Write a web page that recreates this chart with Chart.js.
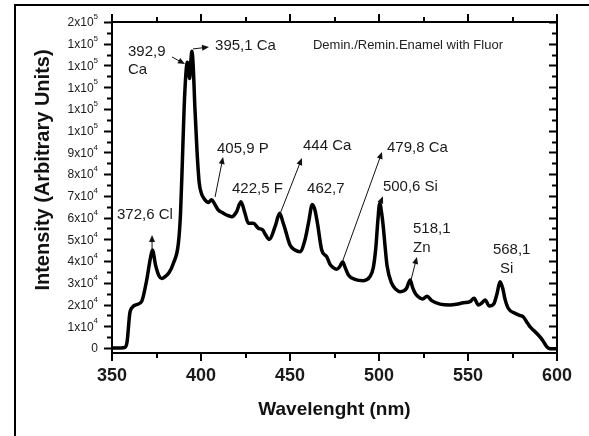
<!DOCTYPE html>
<html>
<head>
<meta charset="utf-8">
<script src="https://cdn.jsdelivr.net/npm/chart.js@4/dist/chart.umd.min.js"></script>
<style>
  html, body { margin: 0; padding: 0; background: #fff; }
  canvas { display: block; }
</style>
</head>
<body>
<canvas id="c" width="589" height="436"></canvas>
<script>
// Emission spectrum: wavelength (nm) and intensity (arbitrary units)
const wavelength = [
  350, 355, 357.3, 358.5, 360, 361.5, 364, 366.7, 369.5, 371.5, 372.7, 374.5, 376.5, 378, 380, 382,
  384.5, 387.3, 388.5, 389.5, 390.5, 391.5, 392.3, 392.9, 393.6, 394.3, 394.9, 395.6, 396.6, 397.8,
  399, 400.3, 401.5, 403, 404.3, 405.9, 407.5, 409.7, 412, 414.4, 417.2, 420, 422.4, 424.7, 426.6,
  429.4, 432.2, 434.7, 436, 438.4, 441.6, 444.2, 446, 447.5, 450, 452.8, 455.6, 458.4, 460.5, 462.5,
  464, 465.5, 467.8, 470.6, 472.5, 474.3, 476.2, 478, 479.6, 481, 482.8, 486.5, 491.2, 494.9, 496.8,
  498.2, 499.3, 500.4, 501.5, 502.4, 503.5, 504.5, 507.1, 509.5, 511.8, 514, 515.5, 517.5, 519,
  520.5, 523, 524.5, 527, 529.6, 534.3, 539.9, 543.5, 547.4, 551.1, 553.4, 555.8, 557.5, 559.6, 562,
  564.5, 566.3, 568, 569.5, 570.8, 572.6, 576.4, 579, 581, 583, 584.8, 587, 589.5, 592, 594.2, 596, 600
];
const intensity = [
  0, 0, 300, 3000, 16000, 18800, 20000, 21500, 31300, 41000, 45100, 38000, 33000, 32000, 33000, 34600,
  39000, 48200, 62000, 85000, 110000, 126000, 131500, 130000, 124000, 132000, 136500, 130000, 110000, 90000,
  76000, 71000, 69000, 67500, 67000, 68200, 66500, 63500, 62300, 61200, 60400, 62700, 67300, 62000, 57400,
  57400, 55100, 54300, 52500, 50000, 55800, 62000, 58000, 54000, 47400, 45100, 44300, 49700, 58000, 66000,
  63500, 57000, 45100, 42000, 38500, 37000, 36200, 37500, 39700, 37000, 33600, 31600, 31000, 32800, 37000,
  46000, 58000, 66600, 62000, 55800, 46000, 38000, 29800, 27000, 25900, 26300, 27500, 31300, 27500,
  25000, 23000, 22600, 23800, 21800, 20200, 19800, 20100, 20800, 21300, 22900, 19800, 20500, 22100, 19300,
  20300, 25000, 30500, 27500, 22500, 18300, 16000, 15000, 14400, 12000, 9800, 8000, 6000, 3500, 600, -300, -300
];

// Axis ticks
const xTickValues = [350, 400, 450, 500, 550, 600];
const xTickLabels = ['350', '400', '450', '500', '550', '600'];
const yTickValues = [0, 10000, 20000, 30000, 40000, 50000, 60000, 70000, 80000, 90000,
                     100000, 110000, 120000, 130000, 140000, 150000];
const yTickLabels = ['0', '1x10^4', '2x10^4', '3x10^4', '4x10^4', '5x10^4', '6x10^4', '7x10^4',
                     '8x10^4', '9x10^4', '1x10^5', '1x10^5', '1x10^5', '1x10^5', '1x10^5', '2x10^5'];

// Peak labels (anchored at wavelength / intensity)
const peakText = ['392,9', 'Ca', '395,1 Ca', '405,9 P', '422,5 F', '444 Ca', '462,7',
                  '479,8 Ca', '500,6 Si', '372,6 Cl', '518,1', 'Zn', '568,1', 'Si'];
const peakTextAt = [
  [359.0, 136200], [359.0, 127900], [407.9, 139000], [409.0, 91600], [417.4, 73200],
  [457.3, 93000], [459.6, 73200], [504.5, 92000], [502.2, 74100], [352.8, 61200],
  [519.1, 54800], [519.1, 46000], [564.0, 45100], [568.0, 36400]
];
// Pointer arrows: [fromWavelength, fromIntensity, toWavelength, toIntensity]
const peakArrows = [
  [383.7, 133900, 391.0, 130700],
  [395.5, 137600, 404.5, 138500],
  [407.9, 69500, 412.4, 87900],
  [444.4, 61700, 456.7, 87400],
  [479.8, 40500, 501.7, 90200],
  [500.6, 66500, 502.2, 69800],
  [372.5, 45600, 372.5, 52000],
  [518.0, 31300, 521.3, 41900]
];
const sampleName = 'Demin./Remin.Enamel with Fluor';
const sampleNameAt = [462.9, 139000];

const FONT = '"Liberation Sans", Arial, Helvetica, sans-serif';

const frameAndAxes = {
  id: 'frameAndAxes',
  afterDraw(chart) {
    const ctx = chart.ctx;
    const xs = chart.scales.x, ys = chart.scales.y;
    const a = chart.chartArea;
    const L = Math.round(a.left), R = Math.round(a.right), T = Math.round(a.top), B = Math.round(a.bottom);
    ctx.save();

    // outer frame (left and top edges)
    ctx.strokeStyle = '#000';
    ctx.lineWidth = 2;
    ctx.beginPath();
    ctx.moveTo(15, 436); ctx.lineTo(15, 5); ctx.lineTo(589, 5);
    ctx.stroke();

    // plot box
    ctx.lineWidth = 2;
    ctx.strokeRect(L, T, R - L, B - T);

    // x ticks (bottom outward, top outward)
    ctx.beginPath();
    for (let v = 350; v <= 600; v += 25) {
      const px = Math.round(xs.getPixelForValue(v));
      const len = (v % 50 === 0) ? 8 : 5;
      ctx.moveTo(px, B); ctx.lineTo(px, B + len);
      ctx.moveTo(px, T); ctx.lineTo(px, T - len);
    }
    // y ticks (left outward, right inward)
    for (let v = 0; v <= 150000; v += 5000) {
      const py = Math.round(ys.getPixelForValue(v)) + 0.5;
      const len = (v % 10000 === 0) ? 8 : 5;
      ctx.moveTo(L, py); ctx.lineTo(L - len, py);
      ctx.moveTo(R, py); ctx.lineTo(R - len, py);
    }
    ctx.stroke();

    // x tick labels
    ctx.fillStyle = '#1a1a1a';
    ctx.font = 'bold 18px ' + FONT;
    ctx.textAlign = 'center';
    ctx.textBaseline = 'middle';
    xTickValues.forEach((v, i) => {
      ctx.fillText(xTickLabels[i], xs.getPixelForValue(v), B + 23);
    });

    // y tick labels with superscript exponents
    yTickValues.forEach((v, i) => {
      const py = ys.getPixelForValue(v);
      const parts = yTickLabels[i].split('^');
      const right = L - 14;
      let expW = 0;
      ctx.textAlign = 'right';
      if (parts.length > 1) {
        ctx.font = '8px ' + FONT;
        expW = ctx.measureText(parts[1]).width;
        ctx.fillText(parts[1], right, py - 5);
      }
      ctx.font = '12px ' + FONT;
      ctx.fillText(parts[0], right - expW, py + 1);
    });

    // axis titles
    ctx.fillStyle = '#111';
    ctx.font = 'bold 19px ' + FONT;
    ctx.textAlign = 'center';
    ctx.fillText('Wavelenght (nm)', (L + R) / 2, 410);
    ctx.save();
    ctx.translate(43, 170);
    ctx.rotate(-Math.PI / 2);
    ctx.font = 'bold 20px ' + FONT;
    ctx.fillText('Intensity (Arbitrary Units)', 0, 0);
    ctx.restore();

    // sample name
    ctx.font = '13px ' + FONT;
    ctx.textAlign = 'left';
    ctx.fillStyle = '#222';
    ctx.fillText(sampleName, xs.getPixelForValue(sampleNameAt[0]), ys.getPixelForValue(sampleNameAt[1]));

    // peak labels
    ctx.font = '15px ' + FONT;
    ctx.fillStyle = '#1a1a1a';
    peakText.forEach((t, i) => {
      ctx.fillText(t, xs.getPixelForValue(peakTextAt[i][0]), ys.getPixelForValue(peakTextAt[i][1]));
    });

    // arrows
    ctx.strokeStyle = '#111';
    ctx.fillStyle = '#111';
    ctx.lineWidth = 1;
    peakArrows.forEach(([x0, y0, x1, y1]) => {
      const ax = xs.getPixelForValue(x0), ay = ys.getPixelForValue(y0);
      const bx = xs.getPixelForValue(x1), by = ys.getPixelForValue(y1);
      const ang = Math.atan2(by - ay, bx - ax);
      const hl = 7, hw = 3;
      ctx.beginPath();
      ctx.moveTo(ax, ay);
      ctx.lineTo(bx - Math.cos(ang) * hl * 0.8, by - Math.sin(ang) * hl * 0.8);
      ctx.stroke();
      ctx.beginPath();
      ctx.moveTo(bx, by);
      ctx.lineTo(bx - Math.cos(ang) * hl - Math.sin(ang) * hw, by - Math.sin(ang) * hl + Math.cos(ang) * hw);
      ctx.lineTo(bx - Math.cos(ang) * hl + Math.sin(ang) * hw, by - Math.sin(ang) * hl - Math.cos(ang) * hw);
      ctx.closePath();
      ctx.fill();
    });

    ctx.restore();
  }
};

new Chart(document.getElementById('c'), {
  type: 'line',
  data: {
    datasets: [{
      data: wavelength.map((w, i) => ({ x: w, y: intensity[i] })),
      borderColor: '#000',
      borderWidth: 3.5,
      pointRadius: 0,
      fill: false,
      cubicInterpolationMode: 'monotone'
    }]
  },
  options: {
    responsive: false,
    animation: false,
    events: [],
    layout: { padding: { left: 112, right: 32, top: 22, bottom: 83 } },
    plugins: { legend: { display: false }, tooltip: { enabled: false } },
    scales: {
      x: { type: 'linear', min: 350, max: 600, display: false },
      y: { type: 'linear', min: -2300, max: 150000, display: false }
    }
  },
  plugins: [frameAndAxes]
});
</script>
</body>
</html>
